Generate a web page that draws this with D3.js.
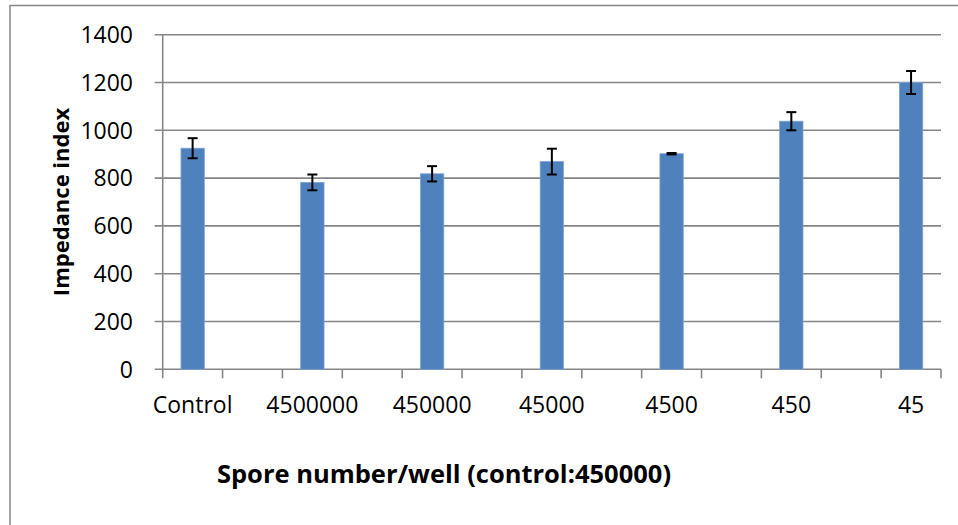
<!DOCTYPE html>
<html><head><meta charset="utf-8">
<script src="https://cdn.jsdelivr.net/npm/d3@7/dist/d3.min.js"></script>
<style>html,body{margin:0;padding:0;background:#fff;}svg{display:block;}</style>
</head><body>
<script>
const categories = ["Control","4500000","450000","45000","4500","450","45"];
const values = [925, 782, 818, 869, 902, 1038, 1200];
const errors = [42, 33, 32, 54, 3, 38, 48];
const yTicks = [0,200,400,600,800,1000,1200,1400];

(function(){
const W = 958, H = 525;
const svg = d3.select("body").append("svg").attr("width", W).attr("height", H);
const font = "'Open Sans', 'Noto Sans', sans-serif";
const gray = "#868686";

// outer border (top and left visible)
svg.append("path").attr("d", `M10,${H} L10,5.5 L${W},5.5`).attr("fill","none").attr("stroke",gray).attr("stroke-width",1.5);

const pL = 162.7, pR = 941, pT = 34.7, pB = 369.3;
// 13 slots: each category followed by an empty slot
const slots = d3.range(categories.length * 2 - 1);
const x = d3.scaleBand().domain(slots).range([pL, pR]).paddingInner(0).paddingOuter(0);
const y = d3.scaleLinear().domain([0, 1400]).range([pB, pT]);

// gridlines + y ticks
svg.append("g").selectAll("line").data(yTicks).join("line")
  .attr("x1", pL - 8).attr("x2", pR)
  .attr("y1", d => y(d)).attr("y2", d => y(d))
  .attr("stroke", gray).attr("stroke-width", 1.6);

// y axis line
svg.append("line").attr("x1", pL).attr("x2", pL).attr("y1", pT).attr("y2", pB + 1)
  .attr("stroke", gray).attr("stroke-width", 1.6);

// x ticks at slot boundaries
const bounds = slots.map(s => x(s)).concat([pR]);
svg.append("g").selectAll("line").data(bounds).join("line")
  .attr("x1", d => d).attr("x2", d => d).attr("y1", pB).attr("y2", pB + 9)
  .attr("stroke", gray).attr("stroke-width", 1.6);

// y tick labels
svg.append("g").selectAll("text").data(yTicks).join("text")
  .attr("x", 133).attr("y", d => y(d)).attr("dy", "0.36em")
  .attr("text-anchor", "end").attr("font-family", font).attr("font-size", 23).attr("fill", "#000")
  .text(d => d);

// bars
const bw = x.bandwidth() * 0.39;
const data = categories.map((c, i) => ({c, v: values[i], e: errors[i], slot: i * 2}));
svg.append("g").selectAll("rect").data(data).join("rect")
  .attr("x", d => x(d.slot) + x.bandwidth()/2 - bw/2)
  .attr("width", bw)
  .attr("y", d => y(d.v))
  .attr("height", d => y(0) - y(d.v))
  .attr("fill", "#4F81BD").attr("stroke", "#7ea3d1").attr("stroke-width", 0.8);

// error bars
const eg = svg.append("g").attr("stroke", "#000").attr("stroke-width", 2);
data.forEach(d => {
  const cx = x(d.slot) + x.bandwidth()/2;
  eg.append("line").attr("x1", cx).attr("x2", cx).attr("y1", y(d.v + d.e)).attr("y2", y(d.v - d.e));
  eg.append("line").attr("x1", cx - 5).attr("x2", cx + 5).attr("y1", y(d.v + d.e)).attr("y2", y(d.v + d.e));
  eg.append("line").attr("x1", cx - 5).attr("x2", cx + 5).attr("y1", y(d.v - d.e)).attr("y2", y(d.v - d.e));
});

// x labels
svg.append("g").selectAll("text").data(data).join("text")
  .attr("x", d => x(d.slot) + x.bandwidth()/2).attr("y", 413)
  .attr("text-anchor", "middle").attr("font-family", font).attr("font-size", 23).attr("fill", "#000")
  .text(d => d.c);

// axis titles
svg.append("text").attr("x", 444).attr("y", 483).attr("text-anchor", "middle")
  .attr("font-family", font).attr("font-size", 25.5).attr("font-weight", "bold").attr("fill", "#000")
  .text("Spore number/well (control:450000)");
svg.append("text").attr("transform", `translate(69,${(pT+pB)/2}) rotate(-90)`).attr("text-anchor", "middle")
  .attr("font-family", font).attr("font-size", 22).attr("font-weight", "bold").attr("fill", "#000")
  .text("Impedance index");
})();
</script>
</body></html>
